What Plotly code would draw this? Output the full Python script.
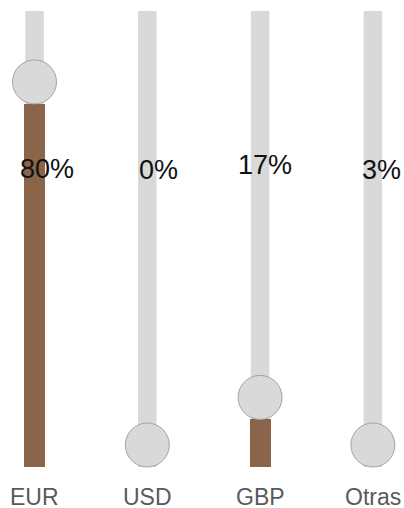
import plotly.graph_objects as go

# Currency share per category
currencies = ["EUR", "USD", "GBP", "Otras"]
shares = [80, 0, 17, 3]
share_labels = ["80%", "0%", "17%", "3%"]

# Style / layout settings
TRACK = "#d9d9d9"
FILL = "#8a6549"
KNOB_LINE = "#a3a3a3"
W, H = 404, 508
M_T, M_B = 11, 41
Y_MIN, Y_MAX = 7.5, 98.55          # value axis range (hidden)
X_RANGE = [-0.306, 3.276]
KNOB_R = 22                        # knob radius in px
label_dx = [12, 11, 5, 9]          # per-label horizontal nudge (px)
label_dy = [0, -1, 4, -1]          # per-label vertical nudge (px)

idx = list(range(len(currencies)))
plot_h = H - M_T - M_B
px_per_unit = plot_h / (Y_MAX - Y_MIN)
knob_y = [max(v, Y_MIN) + KNOB_R / px_per_unit for v in shares]

fig = go.Figure()

# slider tracks
for i in idx:
    fig.add_shape(type="rect", xref="x", yref="y domain",
                  x0=i - 0.082, x1=i + 0.082, y0=0, y1=1,
                  fillcolor=TRACK, line_width=0, layer="below")

# filled part
fig.add_trace(go.Bar(x=idx, y=shares, width=0.186, marker_color=FILL,
                     marker_line_width=0, hoverinfo="skip"))

# knobs
fig.add_trace(go.Scatter(x=idx, y=knob_y, mode="markers", cliponaxis=False,
                         marker=dict(size=2 * KNOB_R, color=TRACK,
                                     line=dict(color=KNOB_LINE, width=1)),
                         hoverinfo="skip"))

# percentage labels
for i, txt in enumerate(share_labels):
    fig.add_annotation(x=i, y=(467 - 169) / plot_h, xref="x", yref="paper",
                       text=txt, showarrow=False, xanchor="center", yanchor="middle",
                       xshift=label_dx[i], yshift=label_dy[i],
                       font=dict(family="Liberation Sans, Arial", size=27, color="#111111"))

# category labels
for i, c in enumerate(currencies):
    fig.add_annotation(x=i, y=-(497 - 467) / plot_h, xref="x", yref="paper",
                       text=c, showarrow=False, xanchor="center", yanchor="middle",
                       font=dict(family="Liberation Sans, Arial", size=23, color="#5a5a5a"))

fig.update_layout(
    width=W, height=H, autosize=False,
    margin=dict(l=0, r=0, t=M_T, b=M_B, pad=0),
    paper_bgcolor="white", plot_bgcolor="white",
    showlegend=False, bargap=0,
    xaxis=dict(range=X_RANGE, visible=False, fixedrange=True),
    yaxis=dict(range=[Y_MIN, Y_MAX], visible=False, fixedrange=True),
)

fig.write_html("out.html", config={"displayModeBar": False})
